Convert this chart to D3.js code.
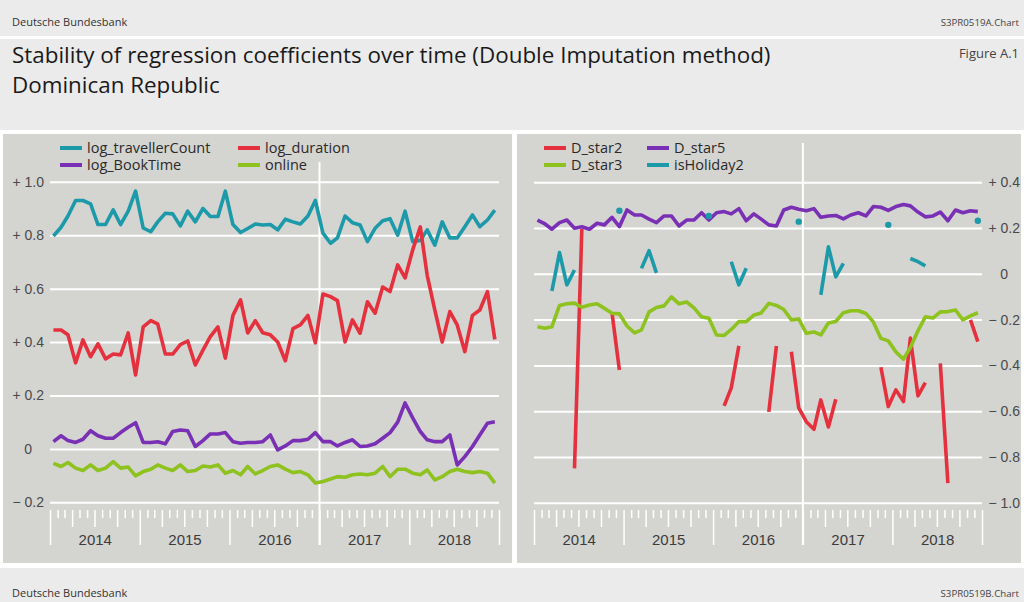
<!DOCTYPE html>
<html>
<head>
<meta charset="utf-8">
<script src="https://cdnjs.cloudflare.com/ajax/libs/d3/7.8.5/d3.min.js"></script>
<style>
	body { margin: 0; background: #ebebeb; }
	svg { display: block; font-family: "Open Sans", sans-serif; }
	.grid .domain, .xax .domain { display: none; }
	.grid line { stroke: #fff; stroke-width: 2; }
	.grid text { fill: #4a4a4a; font-size: 14px; }
	.xax line { stroke: #fff; stroke-width: 1.5; }
	.xax text { fill: #3c3c3c; font-size: 15px; }
	.legend text { fill: #2a2a2a; font-size: 14.5px; }
	.series { fill: none; stroke-width: 3.6; stroke-linejoin: round; }
</style>
</head>
<body>
<div id="chart"></div>
<script>
// monthly coefficients, Jan 2014 - Dec 2018 (null = not estimated)
var travellerCount = [0.797,0.83,0.872,0.93,0.93,0.917,0.84,0.84,0.895,0.84, 0.89,0.965,0.827,0.813,0.85,0.882,0.88,0.835,0.89,0.85, 0.90,0.87,0.87,0.965,0.84,0.81,0.825,0.842,0.838,0.84, 0.82,0.86,0.85,0.842,0.872,0.93,0.808,0.77,0.79,0.872, 0.847,0.838,0.776,0.826,0.854,0.862,0.80,0.89,0.776,0.78, 0.82,0.763,0.85,0.79,0.79,0.832,0.876,0.832,0.857,0.894];
var duration = [0.445,0.445,0.427,0.322,0.408,0.345,0.393,0.337,0.355,0.352, 0.434,0.277,0.457,0.48,0.468,0.355,0.355,0.39,0.404,0.314, 0.37,0.42,0.457,0.34,0.50,0.558,0.434,0.48,0.435,0.427, 0.40,0.33,0.45,0.464,0.50,0.397,0.58,0.57,0.555,0.40, 0.483,0.433,0.551,0.508,0.606,0.589,0.689,0.64,0.745,0.831, 0.65,0.52,0.40,0.514,0.464,0.364,0.50,0.52,0.589,0.41];
var bookTime = [0.027,0.049,0.031,0.024,0.036,0.068,0.049,0.04,0.04,0.061, 0.081,0.098,0.024,0.024,0.027,0.019,0.065,0.071,0.068,0.009, 0.031,0.056,0.056,0.061,0.027,0.021,0.024,0.024,0.027,0.052, -0.004,0.011,0.031,0.031,0.036,0.061,0.027,0.027,0.011,0.024, 0.034,0.009,0.011,0.019,0.04,0.061,0.10,0.172,0.116,0.065, 0.034,0.027,0.027,0.052,-0.06,-0.029,0.009,0.052,0.096,0.102];
var online = [-0.054,-0.066,-0.051,-0.072,-0.081,-0.06,-0.081,-0.072,-0.048,-0.072, -0.068,-0.101,-0.085,-0.076,-0.06,-0.072,-0.081,-0.06,-0.085,-0.081, -0.064,-0.068,-0.06,-0.091,-0.081,-0.097,-0.066,-0.094,-0.081,-0.066, -0.06,-0.076,-0.089,-0.085,-0.097,-0.128,-0.122,-0.113,-0.104,-0.106, -0.097,-0.094,-0.097,-0.091,-0.066,-0.104,-0.076,-0.076,-0.091,-0.097, -0.079,-0.116,-0.104,-0.085,-0.076,-0.085,-0.089,-0.085,-0.091,-0.128];

var dStar2 = [null,null,null,null,null,-0.85,0.196,null,null,null, -0.171,-0.42,null,null,null,null,null,null,null,null, null,null,null,null,null,-0.577,-0.498,-0.315,null,null, null,-0.603,-0.315,null,-0.34,-0.586,-0.646,-0.679,-0.551,-0.669, -0.548,null,null,null,null,null,-0.408,-0.58,-0.507,-0.558, -0.281,-0.533,-0.475,null,-0.391,-0.914,null,null,-0.201,-0.296];
var dStar5 = [0.235,0.218,0.195,0.224,0.235,0.199,0.206,0.195,0.221,0.214, 0.247,0.206,0.279,0.257,0.257,0.239,0.224,0.253,0.253,0.209, 0.235,0.235,0.267,0.235,0.267,0.272,0.262,0.285,0.232,0.262, 0.239,0.214,0.209,0.279,0.291,0.282,0.276,0.285,0.247,0.253, 0.255,0.24,0.257,0.267,0.253,0.294,0.291,0.277,0.294,0.303, 0.297,0.27,0.249,0.253,0.27,0.232,0.279,0.267,0.276,0.272];
var dStar3 = [-0.231,-0.238,-0.231,-0.138,-0.131,-0.128,-0.146,-0.136,-0.131,-0.151, -0.172,-0.175,-0.228,-0.258,-0.245,-0.166,-0.147,-0.14,-0.101,-0.131, -0.123,-0.149,-0.188,-0.194,-0.267,-0.269,-0.243,-0.209,-0.209,-0.18, -0.171,-0.129,-0.138,-0.156,-0.201,-0.197,-0.26,-0.254,-0.267,-0.215, -0.208,-0.17,-0.161,-0.161,-0.173,-0.21,-0.282,-0.293,-0.341,-0.373, -0.322,-0.249,-0.188,-0.193,-0.166,-0.165,-0.158,-0.201,-0.184,-0.17];
var isHoliday2 = [null,null,-0.075,0.093,-0.048,0.017,null,null,null,null, null,0.276,null,null,0.024,0.101,0.004,null,null,null, null,null,null,0.253,null,null,0.053,-0.048,0.024,null, null,null,null,null,null,0.228,null,null,-0.092,0.118, -0.013,0.046,null,null,null,null,null,0.214,null,null, 0.067,0.053,0.035,null,null,null,null,null,null,0.232];

var years = [2014, 2015, 2016, 2017, 2018];
var leftTicks = [1.0, 0.8, 0.6, 0.4, 0.2, 0, -0.2];
var rightTicks = [0.4, 0.2, 0, -0.2, -0.4, -0.6, -0.8, -1.0];

var teal = "#1d9aa9", red = "#e5313d", purple = "#7a30b4", green = "#8ec21e";

var W = 1024, H = 602, svg, months;

months = d3.timeMonth.range(new Date(2014, 0, 1), new Date(2019, 0, 1));

svg = d3.select("#chart").append("svg").attr("width", W).attr("height", H);

// header / footer
svg.append("rect").attr("x", 0).attr("y", 0).attr("width", W).attr("height", H).attr("fill", "#ebebeb");
svg.append("rect").attr("x", 0).attr("y", 36).attr("width", W).attr("height", 3).attr("fill", "#fff");
svg.append("rect").attr("x", 0).attr("y", 130).attr("width", W).attr("height", 438).attr("fill", "#fff");

svg.append("text").attr("x", 12).attr("y", 26).attr("font-size", 11).attr("fill", "#333").text("Deutsche Bundesbank");
svg.append("text").attr("x", 1019).attr("y", 26).attr("font-size", 9.7).attr("fill", "#444").attr("text-anchor", "end").text("S3PR0519A.Chart");
svg.append("text").attr("x", 12).attr("y", 63).attr("font-size", 22.4).attr("fill", "#1a1a1a").text("Stability of regression coefficients over time (Double Imputation method)");
svg.append("text").attr("x", 12).attr("y", 93).attr("font-size", 22.4).attr("fill", "#1a1a1a").text("Dominican Republic");
svg.append("text").attr("x", 1019).attr("y", 58).attr("font-size", 13).attr("fill", "#444").attr("text-anchor", "end").text("Figure A.1");
svg.append("text").attr("x", 12).attr("y", 597).attr("font-size", 11).attr("fill", "#333").text("Deutsche Bundesbank");
svg.append("text").attr("x", 1019).attr("y", 597).attr("font-size", 9.7).attr("fill", "#444").attr("text-anchor", "end").text("S3PR0519B.Chart");

function fmt(v) {
	if (v === 0) return "0";
	return (v > 0 ? "+ " : "\u2212 ") + Math.abs(v).toFixed(1);
}

function panel(o) {
	var g = svg.append("g");
	var x = d3.scaleTime().domain([new Date(2014, 0, 1), new Date(2019, 0, 1)]).range(o.xr);
	var y = d3.scaleLinear().domain(o.dom).range(o.yr);
	var w = o.xr[1] - o.xr[0];

	g.append("rect").attr("x", o.bx[0]).attr("y", 134).attr("width", o.bx[1] - o.bx[0]).attr("height", 429).attr("fill", "#d4d4d1");

	// gridlines + value labels
	var yAx = (o.right ? d3.axisRight(y) : d3.axisLeft(y)).tickValues(o.ticks).tickSize(-w).tickPadding(6).tickFormat(fmt);
	var ga = g.append("g").attr("class", "grid")
		.attr("transform", "translate(" + (o.right ? o.xr[1] : o.xr[0]) + ",0)").call(yAx);
	ga.selectAll("text")
		.attr("text-anchor", "end")
		.attr("x", function(d) { return (o.right ? 38 : -6) - (d === 0 ? 12 : 0); });

	// x-axis ticks: months, quarters, years
	var mAll = months.filter(function(d) { return d.getMonth() % 3 != 0; });
	var qAll = months.filter(function(d) { return d.getMonth() % 3 == 0 && d.getMonth() != 0; });
	var yAll = years.concat([2019]).map(function(d) { return new Date(d, 0, 1); });
	[[mAll, 8], [qAll, 17], [yAll, 35]].forEach(function(t) {
		g.append("g").attr("class", "xax").attr("transform", "translate(0,510)")
			.call(d3.axisBottom(x).tickValues(t[0]).tickSize(t[1]).tickFormat(""));
	});
	g.append("g").attr("class", "xax").attr("transform", "translate(0,510)")
		.call(d3.axisBottom(x).tickValues(years.map(function(d) { return new Date(d, 6, 2); }))
			.tickSize(0).tickPadding(24).tickFormat(d3.timeFormat("%Y")));

	g.append("line")
		.attr("x1", x(new Date(2017, 0, 1))).attr("x2", x(new Date(2017, 0, 1)))
		.attr("y1", o.vTop).attr("y2", 545)
		.attr("stroke", "#fff").attr("stroke-width", 2);

	var line = d3.line()
		.defined(function(d) { return d.v != null; })
		.x(function(d) { return x(d.t); })
		.y(function(d) { return y(d.v); });

	o.series.forEach(function(s) {
		var pts = s.data.map(function(v, i) { return { t: new Date(2014, i, 15), v: v }; });
		g.append("path").attr("class", "series").attr("stroke", s.color).attr("d", line(pts));
		var lone = pts.filter(function(d, i) {
			return d.v != null && (i == 0 || pts[i - 1].v == null) && (i == pts.length - 1 || pts[i + 1].v == null);
		});
		g.selectAll(null).data(lone).enter().append("circle")
			.attr("cx", function(d) { return x(d.t); })
			.attr("cy", function(d) { return y(d.v); })
			.attr("r", 3.2).attr("fill", s.color);
	});

	var leg = g.append("g").attr("class", "legend").selectAll("g")
		.data(o.series).enter().append("g")
		.attr("transform", function(d, i) { return "translate(" + o.legX[i % 2] + "," + (148 + 17 * Math.floor(i / 2)) + ")"; });
	leg.append("line").attr("x1", 0).attr("x2", 22).attr("stroke", function(d) { return d.color; }).attr("stroke-width", 4);
	leg.append("text").attr("x", 27).attr("dy", "0.35em").text(function(d) { return d.name; });
}

panel({
	bx: [3, 512], xr: [50, 499], yr: [502.3, 181.8], dom: [-0.2, 1.0], ticks: leftTicks,
	right: false, vTop: 162, legX: [60, 238],
	series: [
		{ name: "log_travellerCount", color: teal, data: travellerCount },
		{ name: "log_duration", color: red, data: duration },
		{ name: "log_BookTime", color: purple, data: bookTime },
		{ name: "online", color: green, data: online }
	]
});

panel({
	bx: [517, 1021], xr: [534, 982], yr: [502.7, 182.3], dom: [-1.0, 0.4], ticks: rightTicks,
	right: true, vTop: 143, legX: [544, 647],
	series: [
		{ name: "D_star2", color: red, data: dStar2 },
		{ name: "D_star5", color: purple, data: dStar5 },
		{ name: "D_star3", color: green, data: dStar3 },
		{ name: "isHoliday2", color: teal, data: isHoliday2 }
	]
});
</script>
</body>
</html>
